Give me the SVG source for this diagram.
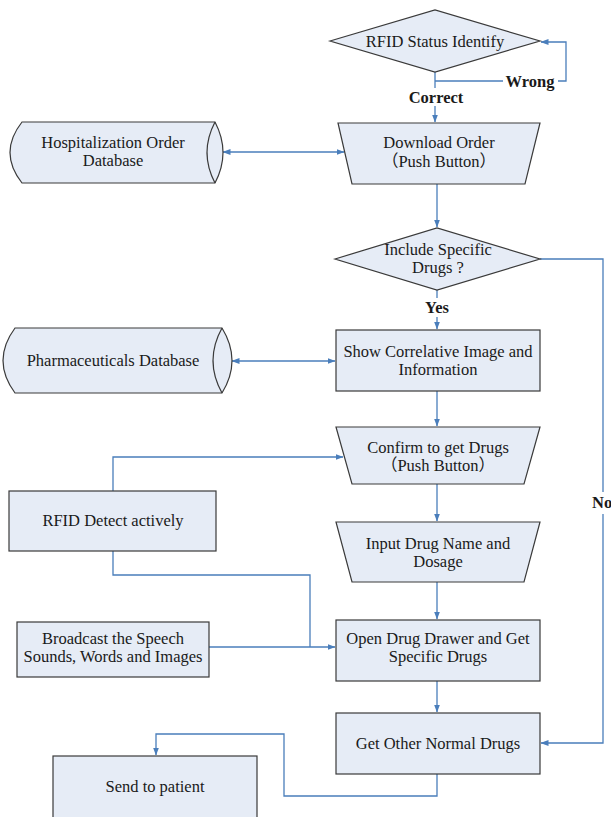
<svg xmlns="http://www.w3.org/2000/svg" width="611" height="817" viewBox="0 0 611 817">
<style>
.n{fill:#e6ecf6;stroke:#3a3a3a;stroke-width:1.2}
.t{font-family:"Liberation Serif","Noto Sans CJK SC",serif;font-size:16.5px;fill:#1a1a1a;text-anchor:middle}
.b{font-weight:bold}
.c{fill:none;stroke:#4a7ebb;stroke-width:1.3}
</style>
<defs>
<marker id="a" viewBox="0 0 8 8" refX="7.5" refY="4" markerWidth="8" markerHeight="8" markerUnits="userSpaceOnUse" orient="auto-start-reverse">
<path d="M0,1 L8,4 L0,7 Z" fill="#4a7ebb"/>
</marker>
</defs>
<rect width="611" height="817" fill="#ffffff"/>

<g id="connectors">
<path class="c" d="M435,72 V88"/>
<path class="c" d="M435,106 V122" marker-end="url(#a)"/>
<path class="c" d="M435,81 H503"/>
<path class="c" d="M558,81 H566 V42 H541" marker-end="url(#a)"/>
<path class="c" d="M223,152 H344" marker-start="url(#a)" marker-end="url(#a)"/>
<path class="c" d="M437,184 V227" marker-end="url(#a)"/>
<path class="c" d="M437,290 V298"/>
<path class="c" d="M437,317 V329" marker-end="url(#a)"/>
<path class="c" d="M540,259 H603 V492"/>
<path class="c" d="M603,514 V743 H541" marker-end="url(#a)"/>
<path class="c" d="M232,361 H335" marker-start="url(#a)" marker-end="url(#a)"/>
<path class="c" d="M437,391 V426" marker-end="url(#a)"/>
<path class="c" d="M113,491 V457 H343" marker-end="url(#a)"/>
<path class="c" d="M437,484 V521" marker-end="url(#a)"/>
<path class="c" d="M113,551 V575 H310 V647"/>
<path class="c" d="M209,647 H335" marker-end="url(#a)"/>
<path class="c" d="M437,582 V619" marker-end="url(#a)"/>
<path class="c" d="M437,681 V712" marker-end="url(#a)"/>
<path class="c" d="M437,774 V796 H284 V734 H156 V755" marker-end="url(#a)"/>
<text class="t b" x="530" y="87">Wrong</text>
<text class="t b" x="436" y="103">Correct</text>
<text class="t b" x="437" y="313">Yes</text>
<text class="t b" x="592" y="508" style="text-anchor:start">No</text>
</g>

<g id="rfid-status">
<polygon class="n" points="330,41 435,10 540,41 435,72"/>
<text class="t" x="435" y="47">RFID Status Identify</text>
</g>

<g id="download-order">
<polygon class="n" points="338,123 540,123 525,184 352,184"/>
<text class="t" x="439" y="148">Download Order</text>
<text class="t" x="439" y="167">（Push Button）</text>
</g>

<g id="hospitalization-db">
<path class="n" d="M22,122 H215 Q231,152.5 215,183 H22 Q-2,152.5 22,122 Z"/>
<path class="n" d="M215,122 Q199,152.5 215,183"/>
<text class="t" x="113" y="148">Hospitalization Order</text>
<text class="t" x="113" y="166">Database</text>
</g>

<g id="include-drugs">
<polygon class="n" points="335,259 437,228 540,259 437,290"/>
<text class="t" x="438" y="255">Include Specific</text>
<text class="t" x="438" y="273">Drugs ?</text>
</g>

<g id="show-image">
<rect class="n" x="336" y="330" width="204" height="61"/>
<text class="t" x="438" y="357">Show Correlative Image and</text>
<text class="t" x="438" y="375">Information</text>
</g>

<g id="pharma-db">
<path class="n" d="M15,328 H222 Q242,360.5 222,393 H15 Q-9,360.5 15,328 Z"/>
<path class="n" d="M222,328 Q204,360.5 222,393"/>
<text class="t" x="113" y="366">Pharmaceuticals Database</text>
</g>

<g id="confirm-drugs">
<polygon class="n" points="336,427 540,427 524,484 352,484"/>
<text class="t" x="438" y="453">Confirm to get Drugs</text>
<text class="t" x="438" y="471">（Push Button）</text>
</g>

<g id="rfid-detect">
<rect class="n" x="9" y="491" width="207" height="60"/>
<text class="t" x="113" y="526">RFID Detect actively</text>
</g>

<g id="input-drug">
<polygon class="n" points="336,522 540,522 524,582 352,582"/>
<text class="t" x="438" y="549">Input Drug Name and</text>
<text class="t" x="438" y="567">Dosage</text>
</g>

<g id="broadcast">
<rect class="n" x="17" y="622" width="192" height="55"/>
<text class="t" x="113" y="644">Broadcast the Speech</text>
<text class="t" x="113" y="662">Sounds, Words and Images</text>
</g>

<g id="open-drawer">
<rect class="n" x="336" y="620" width="204" height="61"/>
<text class="t" x="438" y="644">Open Drug Drawer and Get</text>
<text class="t" x="438" y="662">Specific Drugs</text>
</g>

<g id="other-drugs">
<rect class="n" x="336" y="713" width="204" height="61"/>
<text class="t" x="438" y="749">Get Other Normal Drugs</text>
</g>

<g id="send-patient">
<rect class="n" x="53" y="756" width="204" height="80"/>
<text class="t" x="155" y="792">Send to patient</text>
</g>
</svg>
